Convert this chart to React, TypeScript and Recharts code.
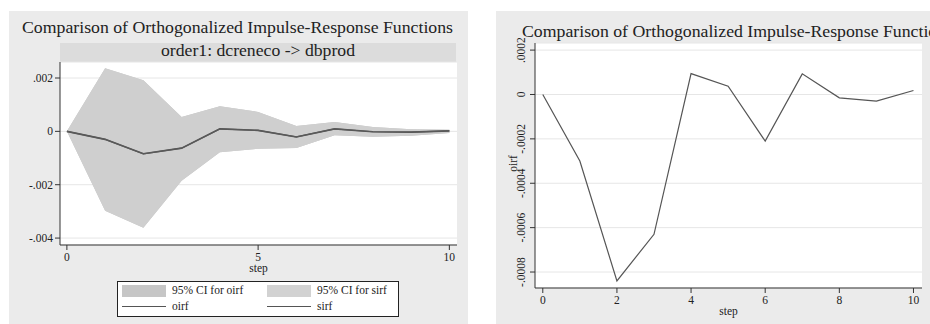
import {
  ComposedChart,
  Area,
  Line,
  XAxis,
  YAxis,
  CartesianGrid,
} from 'recharts';

const steps = [0, 1, 2, 3, 4, 5, 6, 7, 8, 9, 10];
const oirf = [0, -0.0003, -0.00084, -0.00063, 0.000094, 0.000037, -0.00021, 0.000093, -0.000015, -0.00003, 0.000018];
const sirf = [0, -0.0003, -0.00084, -0.00063, 0.000094, 0.000037, -0.00021, 0.000093, -0.000015, -0.00003, 0.000018];
const ciLower = [0, -0.00298, -0.00361, -0.00185, -0.00078, -0.00065, -0.00062, -0.00015, -0.0002, -0.00016, -0.00006];
const ciUpper = [0, 0.00237, 0.00192, 0.00054, 0.00094, 0.00073, 0.0002, 0.00035, 0.00016, 0.00008, 0.00006];

const leftYTicks = [-0.004, -0.002, 0, 0.002];
const leftXTicks = [0, 5, 10];
const rightYTicks = [-0.0008, -0.0006, -0.0004, -0.0002, 0, 0.0002];
const rightXTicks = [0, 2, 4, 6, 8, 10];

const TITLE = 'Comparison of Orthogonalized Impulse-Response Functions';
const SUBTITLE = 'order1: dcreneco -> dbprod';

const data = steps.map((s, i) => ({
  step: s,
  oirf: oirf[i],
  sirf: sirf[i],
  ciOirf: [ciLower[i], ciUpper[i]],
  ciSirf: [ciLower[i], ciUpper[i]],
}));

const FONT = '"Liberation Serif", "DejaVu Serif", serif';
const TEXT = '#222';
const PANEL = '#ebebeb';

const fmt = (v: number) => (v === 0 ? '0' : String(v).replace('0.', '.'));

const XTick = (props: any) => {
  const { x, y, payload } = props;
  return (
    <text x={x} y={y + 10} textAnchor="middle" fontSize={11.5} fontFamily={FONT} fill={TEXT}>
      {fmt(payload.value)}
    </text>
  );
};

const LeftYTick = (props: any) => {
  const { x, y, payload } = props;
  return (
    <text x={x} y={y + 4} textAnchor="end" fontSize={11.5} fontFamily={FONT} fill={TEXT}>
      {fmt(payload.value)}
    </text>
  );
};

const RotatedTick = (props: any) => {
  const { x, y, payload } = props;
  const bx = x - 3;
  return (
    <text
      x={bx}
      y={y}
      transform={`rotate(-90, ${bx}, ${y})`}
      textAnchor="middle"
      fontSize={11.5}
      fontFamily={FONT}
      fill={TEXT}
    >
      {fmt(payload.value)}
    </text>
  );
};

const stepLabel = (p: any) => {
  const vb = p.viewBox;
  const cx = vb.x + vb.width / 2;
  return (
    <text x={cx} y={vb.y + 26.5} textAnchor="middle" fontSize={11.5} fontFamily={FONT} fill={TEXT}>
      step
    </text>
  );
};

const Title = ({ x, y, width }: { x: number; y: number; width: number }) => (
  <svg style={{ position: 'absolute', left: 0, top: 0, overflow: 'visible' }} width={1} height={1}>
    <text
      x={x}
      y={y}
      textLength={width}
      lengthAdjust="spacingAndGlyphs"
      fontSize={16}
      fontFamily={FONT}
      fill={TEXT}
    >
      {TITLE}
    </text>
  </svg>
);

const LeftPanel = () => (
  <div style={{ position: 'absolute', left: 9, top: 11, width: 459, height: 313, background: PANEL }}>
    <Title x={13} y={22} width={431} />
    <div style={{ position: 'absolute', left: 51, top: 32, width: 396, height: 19, background: '#dcdcdc' }} />
    <svg style={{ position: 'absolute', left: 0, top: 0, overflow: 'visible' }} width={1} height={1}>
      <text x={249} y={45} textAnchor="middle" fontSize={16} fontFamily={FONT} fill={TEXT} textLength={194} lengthAdjust="spacingAndGlyphs">
        {SUBTITLE}
      </text>
    </svg>
    <div style={{ position: 'absolute', left: 0, top: 0 }}>
      <ComposedChart width={459} height={313} data={data} margin={{ top: 51, right: 11, bottom: 49, left: 0 }}>
        <CartesianGrid vertical={false} stroke="#e6e6e6" fill="#ffffff" />
        <XAxis
          type="number"
          dataKey="step"
          domain={[-0.18, 10.2]}
          ticks={leftXTicks}
          allowDataOverflow
          height={30}
          tickSize={5}
          tickMargin={1}
          tick={<XTick />}
          stroke="#333"
          label={stepLabel}
        />
        <YAxis
          type="number"
          domain={[-0.00426, 0.0026]}
          ticks={leftYTicks}
          allowDataOverflow
          width={51}
          tickSize={5}
          tickMargin={2}
          tick={<LeftYTick />}
          stroke="#333"
        />
        <Area type="linear" dataKey="ciOirf" stroke="none" fill="#c6c6c6" fillOpacity={1} isAnimationActive={false} />
        <Area type="linear" dataKey="ciSirf" stroke="none" fill="#cfcfcf" fillOpacity={1} isAnimationActive={false} />
        <Line type="linear" dataKey="oirf" stroke="#555" strokeWidth={1.6} dot={false} isAnimationActive={false} />
        <Line type="linear" dataKey="sirf" stroke="#5a5a5a" strokeWidth={1.2} dot={false} isAnimationActive={false} />
      </ComposedChart>
    </div>
    <div
      style={{
        position: 'absolute',
        left: 108,
        top: 270,
        width: 280,
        height: 34,
        border: '1px solid #222',
        background: '#fff',
        fontFamily: FONT,
        fontSize: 11.5,
        color: TEXT,
      }}
    >
      <div style={{ position: 'absolute', left: 4, top: 3, width: 44, height: 12, background: '#c6c6c6' }} />
      <div style={{ position: 'absolute', left: 54, top: 2, lineHeight: '13px' }}>95% CI for oirf</div>
      <div style={{ position: 'absolute', left: 149, top: 3, width: 44, height: 12, background: '#d2d2d2' }} />
      <div style={{ position: 'absolute', left: 199, top: 2, lineHeight: '13px' }}>95% CI for sirf</div>
      <div style={{ position: 'absolute', left: 4, top: 24, width: 44, height: 1, background: '#555' }} />
      <div style={{ position: 'absolute', left: 54, top: 18, lineHeight: '13px' }}>oirf</div>
      <div style={{ position: 'absolute', left: 149, top: 24, width: 44, height: 1, background: '#555' }} />
      <div style={{ position: 'absolute', left: 199, top: 18, lineHeight: '13px' }}>sirf</div>
    </div>
  </div>
);

const RightPanel = () => (
  <div style={{ position: 'absolute', left: 496, top: 11, width: 434, height: 313, background: PANEL, overflow: 'hidden' }}>
    <div style={{ position: 'absolute', left: 0, top: 0 }}>
      <ComposedChart width={434} height={313} data={data} margin={{ top: 32, right: 8, bottom: 3, left: 0 }}>
        <CartesianGrid vertical={false} stroke="#e6e6e6" fill="#ffffff" />
        <XAxis
          type="number"
          dataKey="step"
          domain={[-0.21, 10.23]}
          ticks={rightXTicks}
          allowDataOverflow
          height={33}
          tickSize={5}
          tickMargin={1}
          tick={<XTick />}
          stroke="#333"
          label={stepLabel}
        />
        <YAxis
          type="number"
          domain={[-0.000872, 0.000232]}
          ticks={rightYTicks}
          allowDataOverflow
          width={39}
          tickSize={5}
          tickMargin={2}
          tick={<RotatedTick />}
          stroke="#333"
          label={(p: any) => {
            const vb = p.viewBox || { x: 0, y: 32, width: 39, height: 245 };
            const cx = 21;
            const cy = vb.y + vb.height / 2 - 2;
            return (
              <text x={cx} y={cy} transform={`rotate(-90, ${cx}, ${cy})`} textAnchor="middle" fontSize={11.5} fontFamily={FONT} fill={TEXT}>
                oirf
              </text>
            );
          }}
        />
        <Line type="linear" dataKey="oirf" stroke="#555" strokeWidth={1.2} dot={false} isAnimationActive={false} />
      </ComposedChart>
    </div>
    <Title x={26} y={26} width={431} />
  </div>
);

export default function App() {
  return (
    <div style={{ position: 'absolute', left: 0, top: 0, width: 930, height: 324, background: '#fff' }}>
      <LeftPanel />
      <RightPanel />
    </div>
  );
}
